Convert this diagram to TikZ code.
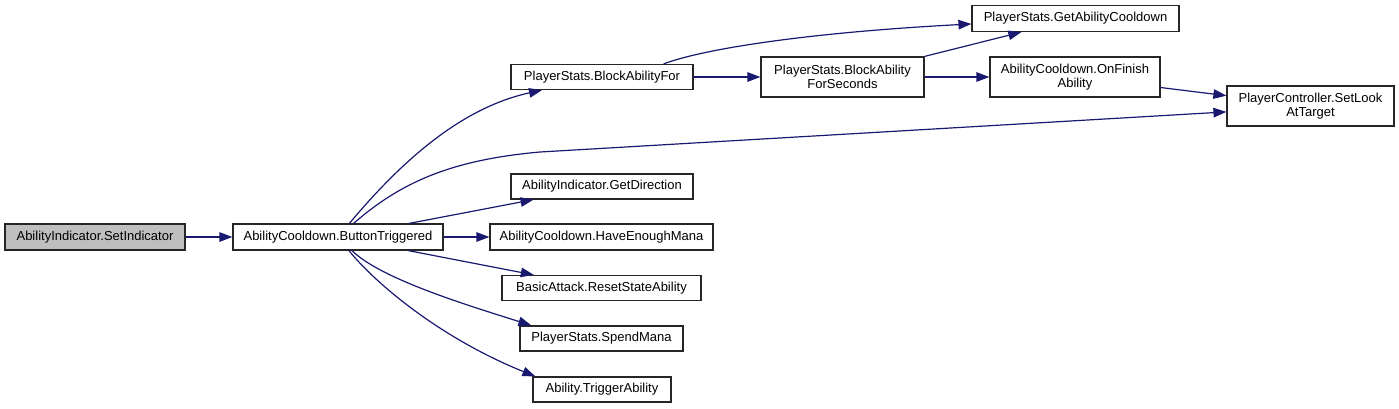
\documentclass[tikz,border=0pt]{standalone}
\usepackage{fontspec}
\setmainfont{Liberation Sans}
\usetikzlibrary{arrows.meta}
\definecolor{edgeblue}{HTML}{191970}
\definecolor{rootgray}{HTML}{BFBFBF}

\begin{document}
\begin{tikzpicture}[x=1pt, y=1pt, font=\fontsize{13}{14}\selectfont,
  box/.style={rectangle, draw=black!85, line width=1.2pt, fill=white, inner sep=0pt, align=center},
  edge/.style={draw=edgeblue, line width=1.2pt, -{Triangle[length=13pt, width=9.5pt]}}]
\useasboundingbox (0,0) rectangle (1399,408);
\node[box, fill=rootgray, minimum width=180pt, minimum height=26pt] (node0) at (95, 171) {AbilityIndicator.SetIndicator};
\node[box, minimum width=210pt, minimum height=26pt] (node1) at (338, 171) {AbilityCooldown.ButtonTriggered};
\node[box, minimum width=182pt, minimum height=25pt] (node2) at (602, 331) {PlayerStats.BlockAbilityFor};
\node[box, minimum width=163pt, minimum height=40pt] (node3) at (842.5, 331) {PlayerStats.BlockAbility\\ForSeconds};
\node[box, minimum width=207pt, minimum height=26pt] (node4) at (1075.5, 389.5) {PlayerStats.GetAbilityCooldown};
\node[box, minimum width=170pt, minimum height=40pt] (node5) at (1075, 331) {AbilityCooldown.OnFinish\\Ability};
\node[box, minimum width=167pt, minimum height=40pt] (node6) at (1310.5, 302) {PlayerController.SetLook\\AtTarget};
\node[box, minimum width=182pt, minimum height=25pt] (node7) at (602, 221.5) {AbilityIndicator.GetDirection};
\node[box, minimum width=223pt, minimum height=26pt] (node8) at (601.5, 171) {AbilityCooldown.HaveEnoughMana};
\node[box, minimum width=199pt, minimum height=25pt] (node9) at (601.5, 120) {BasicAttack.ResetStateAbility};
\node[box, minimum width=163pt, minimum height=25pt] (node10) at (601.5, 69.5) {PlayerStats.SpendMana};
\node[box, minimum width=138pt, minimum height=25pt] (node11) at (602, 18.5) {Ability.TriggerAbility};
\draw[edge] (node0) -- (node1);
\draw[edge] (node1) .. controls (400, 245) and (460, 300) .. (node2);
\draw[edge] (node1) .. controls (400, 225) and (450, 248) .. (540, 256) -- (node6.184);
\draw[edge] (node1) -- (node7);
\draw[edge] (node1) -- (node8);
\draw[edge] (node1) -- (node9);
\draw[edge] (node1) .. controls (380, 130) and (460, 105) .. ([xshift=12pt]node10.north west);
\draw[edge] (node1) .. controls (375, 125) and (440, 70) .. ([xshift=3pt]node11.north west);
\draw[edge] (node2) -- (node3);
\draw[edge] (node2.12) .. controls (700, 358) and (800, 375) .. (node4);
\draw[edge] (node3) -- (node4);
\draw[edge] (node3) -- (node5);
\draw[edge] (node5) -- (node6);
\end{tikzpicture}
\end{document}
